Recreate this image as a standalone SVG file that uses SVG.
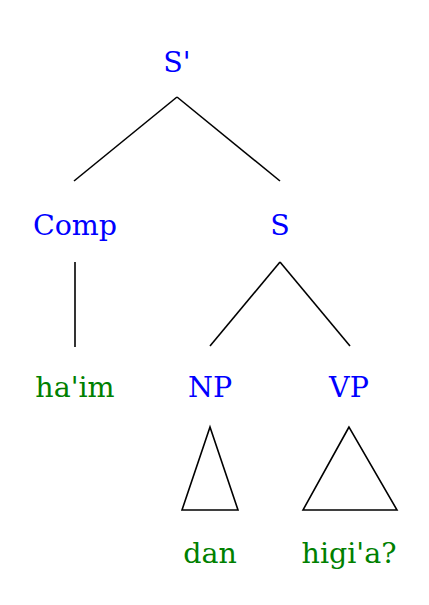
<svg xmlns="http://www.w3.org/2000/svg" width="429" height="605" viewBox="0 0 429 605">
<style>
text{font-family:"DejaVu Serif","Liberation Serif",serif;font-size:28.5px;text-anchor:middle}
.c{fill:#0000ff}
.t{fill:#008000}
.e{stroke:#000;stroke-width:1.6;fill:none}
</style>
<rect width="429" height="605" fill="#fff"/>
<g id="connectors">
<line class="e" x1="177" y1="97" x2="74" y2="181"/>
<line class="e" x1="177" y1="97" x2="280" y2="181"/>
<line class="e" x1="75" y1="262" x2="75" y2="347"/>
<line class="e" x1="280" y1="262" x2="210" y2="346"/>
<line class="e" x1="280" y1="262" x2="350" y2="346"/>
<polygon class="e" points="210,427 182,510 238,510"/>
<polygon class="e" points="349,427 303,510 397,510"/>
</g>
<g id="n-sbar"><text class="c" x="177" y="72">S'</text></g>
<g id="n-comp"><text class="c" x="75" y="235">Comp</text></g>
<g id="n-s"><text class="c" x="280" y="235">S</text></g>
<g id="n-haim"><text class="t" x="75" y="397">ha'im</text></g>
<g id="n-np"><text class="c" x="210" y="397">NP</text></g>
<g id="n-vp"><text class="c" x="349" y="397">VP</text></g>
<g id="n-dan"><text class="t" x="210" y="563">dan</text></g>
<g id="n-higia"><text class="t" x="349" y="563">higi'a?</text></g>
</svg>
